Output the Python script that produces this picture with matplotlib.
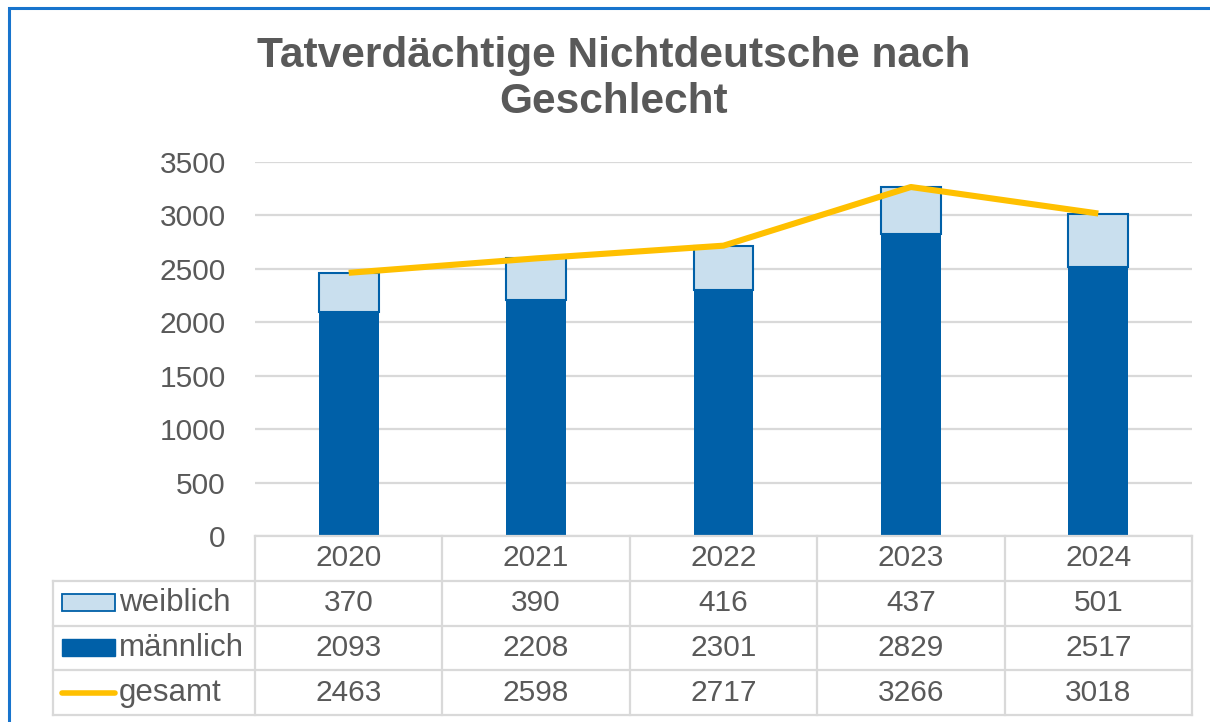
import matplotlib
matplotlib.use("Agg")
import matplotlib.pyplot as plt
from matplotlib.patches import Rectangle
from matplotlib.lines import Line2D

years = ["2020", "2021", "2022", "2023", "2024"]
weiblich = [370, 390, 416, 437, 501]
maennlich = [2093, 2208, 2301, 2829, 2517]
gesamt = [2463, 2598, 2717, 3266, 3018]
series_labels = ["weiblich", "männlich", "gesamt"]
yticks = [0, 500, 1000, 1500, 2000, 2500, 3000, 3500]
title = "Tatverdächtige Nichtdeutsche nach\nGeschlecht"

DARK = "#0060A8"
LIGHT = "#C9DFEE"
GOLD = "#FFC000"
GRID = "#D9D9D9"
TXT = "#595959"

plt.rcParams['font.family'] = ['Liberation Sans', 'DejaVu Sans']

W, H = 1210, 722
fig = plt.figure(figsize=(W / 100, H / 100), dpi=100)

def fx(px):
    return px / W

def fy(py):
    return 1 - py / H

# outer blue border (extends beyond image on right/bottom)
fig.add_artist(Rectangle((fx(9), fy(740)), fx(1230) - fx(9), fy(8) - fy(740),
                         transform=fig.transFigure, fill=False,
                         edgecolor="#1874CD", linewidth=2.2))

# main axes
L, R, T, B = 255, 1192, 162, 536
ax = fig.add_axes([fx(L), fy(B), fx(R) - fx(L), fy(T) - fy(B)])
x = list(range(len(years)))
bw = 0.32
ax.bar(x, maennlich, width=bw, color=DARK, edgecolor=DARK, linewidth=0, zorder=3)
ax.bar(x, weiblich, bottom=maennlich, width=bw, color=LIGHT, edgecolor=DARK,
       linewidth=1.5, zorder=3)
ax.plot(x, gesamt, color=GOLD, linewidth=4.4, solid_capstyle="butt", zorder=4)
ax.set_xlim(-0.5, len(years) - 0.5)
ax.set_ylim(0, 3500)
ax.set_yticks(yticks)
ax.set_yticklabels([str(v) for v in yticks], fontsize=21.5, color=TXT)
ax.tick_params(axis="y", length=0, pad=21)
ax.set_xticks([])
ax.grid(axis="y", color=GRID, linewidth=1.6, zorder=0)
for s in ax.spines.values():
    s.set_visible(False)

# title
fig.text(fx(614), fy(79), title, ha="center", va="center", fontsize=30.5,
         fontweight="bold", color=TXT, linespacing=1.18)

# data table
TL, TB = 53, 715
tax = fig.add_axes([fx(TL), fy(TB), fx(R) - fx(TL), fy(B) - fy(TB)])
label_w = (L - TL) / ((R - L) / len(years))
tax.set_xlim(-0.5 - label_w, len(years) - 0.5)
tax.set_ylim(4, 0)
tax.axis("off")
lc = GRID
lw = 1.6
# horizontal lines
tax.plot([-0.5, len(years) - 0.5], [0, 0], color=lc, lw=lw, clip_on=False)
for r in [1, 2, 3, 4]:
    tax.plot([-0.5 - label_w, len(years) - 0.5], [r, r], color=lc, lw=lw, clip_on=False)
# vertical lines
for i in range(len(years) + 1):
    tax.plot([i - 0.5, i - 0.5], [0, 4], color=lc, lw=lw, clip_on=False)
tax.plot([-0.5 - label_w] * 2, [1, 4], color=lc, lw=lw, clip_on=False)

fs = 21.5
for i, yr in enumerate(years):
    tax.text(i, 0.5, yr, ha="center", va="center", fontsize=fs, color=TXT)
    tax.text(i, 1.5, str(weiblich[i]), ha="center", va="center", fontsize=fs, color=TXT)
    tax.text(i, 2.5, str(maennlich[i]), ha="center", va="center", fontsize=fs, color=TXT)
    tax.text(i, 3.5, str(gesamt[i]), ha="center", va="center", fontsize=fs, color=TXT)

# legend keys in label column
unit = (R - L) / len(years)
def dx(px):
    return -0.5 - label_w + (px - TL) / unit

tax.add_patch(Rectangle((dx(62), 1.3), dx(115) - dx(62), 0.38, facecolor=LIGHT,
                        edgecolor=DARK, linewidth=1.3))
tax.add_patch(Rectangle((dx(62), 2.3), dx(115) - dx(62), 0.38, facecolor=DARK,
                        edgecolor=DARK, linewidth=1.0))
tax.add_line(Line2D([dx(62), dx(115)], [3.5, 3.5], color=GOLD, linewidth=4.0,
                    solid_capstyle="round"))
for k, lab in enumerate(series_labels):
    tax.text(dx(119), 1.5 + k, lab, ha="left", va="center", fontsize=22.5, color=TXT)

fig.savefig("out.png", dpi=100)
